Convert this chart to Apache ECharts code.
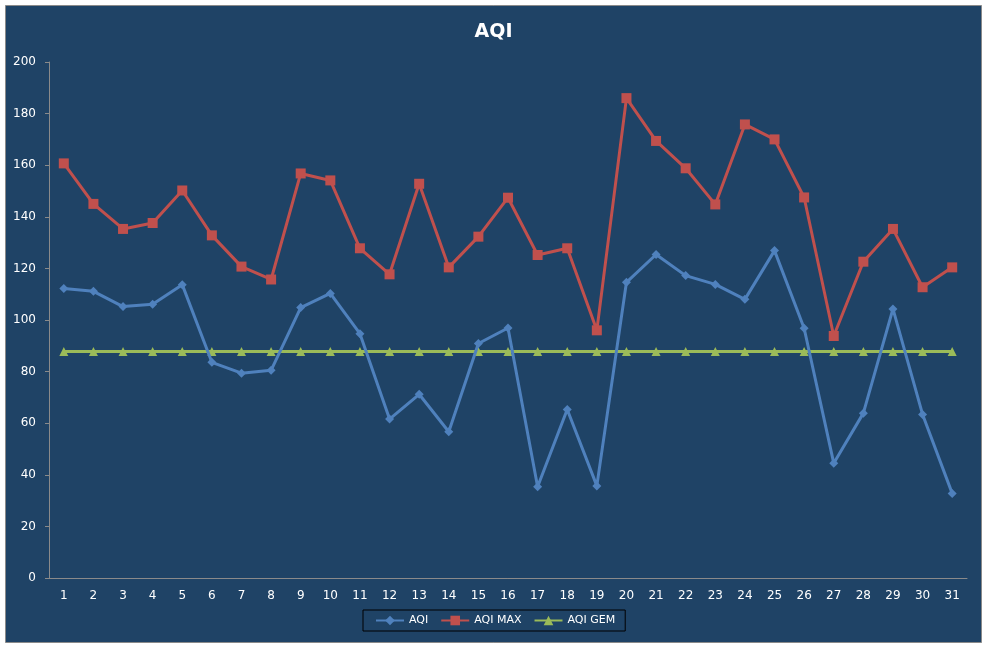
<!DOCTYPE html>
<html>
<head>
<meta charset="utf-8">
<script src="https://cdn.jsdelivr.net/npm/echarts@6/dist/echarts.min.js"></script>
<style>
  html, body { margin: 0; padding: 0; background: #ffffff; }
  #chart { width: 987px; height: 648px; }
</style>
</head>
<body>
<div id="chart"></div>
<script>
// 날짜 (1일 ~ 31일)
const days = ["1","2","3","4","5","6","7","8","9","10","11","12","13","14","15","16",
  "17","18","19","20","21","22","23","24","25","26","27","28","29","30","31"];

// AQI 일평균
const aqi = [112.2, 111.1, 105.2, 106.1, 113.7, 83.6, 79.4, 80.5, 104.8, 110.3, 94.7,
  61.6, 71.2, 56.7, 90.9, 96.9, 35.4, 65.3, 35.7, 114.6, 125.4, 117.2, 113.8, 108,
  126.9, 96.8, 44.5, 63.9, 104.3, 63.4, 32.8];

// AQI 최대값
const aqiMax = [160.7, 145, 135.3, 137.6, 150.2, 132.8, 120.7, 115.7, 156.8, 154.1, 127.8,
  117.7, 152.8, 120.4, 132.3, 147.4, 125.2, 127.8, 96, 186, 169.4, 158.8, 144.8, 175.8,
  170, 147.5, 93.8, 122.6, 135.3, 112.7, 120.4];

// AQI 월평균 (GEM)
const aqiGem = [87.8, 87.8, 87.8, 87.8, 87.8, 87.8, 87.8, 87.8, 87.8, 87.8, 87.8,
  87.8, 87.8, 87.8, 87.8, 87.8, 87.8, 87.8, 87.8, 87.8, 87.8, 87.8, 87.8, 87.8,
  87.8, 87.8, 87.8, 87.8, 87.8, 87.8, 87.8];

const chart = echarts.init(document.getElementById("chart"));
const font = "DejaVu Sans";

const option = {
  animation: false,
  backgroundColor: "#ffffff",
  graphic: [
    {
      type: "rect",
      z: -10,
      silent: true,
      shape: { x: 5.5, y: 5.5, width: 976, height: 637 },
      style: { fill: "#1f4366", stroke: "#8a8a8a", lineWidth: 1 },
    },
  ],
  title: {
    text: "AQI",
    left: "center",
    top: 18,
    textStyle: { color: "#ffffff", fontSize: 19, fontWeight: "bold", fontFamily: font },
  },
  legend: {
    data: ["AQI", "AQI MAX", "AQI GEM"],
    top: 610,
    left: 363,
    padding: [5, 10, 5, 12],
    itemGap: 12,
    itemWidth: 28,
    itemHeight: 12,
    borderColor: "#000000",
    borderWidth: 1,
    textStyle: { color: "#ffffff", fontSize: 11, fontFamily: font },
  },
  grid: { left: 49, right: 20, top: 62, bottom: 70 },
  xAxis: {
    type: "category",
    data: days,
    boundaryGap: true,
    axisLine: { lineStyle: { color: "#8a8a8a", width: 1 } },
    axisTick: { length: 5, lineStyle: { color: "#8a8a8a" } },
    axisLabel: { color: "#ffffff", fontSize: 12, fontFamily: font, margin: 12 },
  },
  yAxis: {
    type: "value",
    min: 0,
    max: 200,
    interval: 20,
    splitLine: { show: false },
    axisLine: { show: true, lineStyle: { color: "#8a8a8a", width: 1 } },
    axisTick: { show: true, inside: false, length: 4, lineStyle: { color: "#8a8a8a" } },
    axisLabel: { color: "#ffffff", fontSize: 12, fontFamily: font, margin: 13 },
  },
  series: [
    {
      name: "AQI",
      type: "line",
      data: aqi,
      symbol: "diamond",
      symbolSize: 9,
      color: "#4f81bd",
      lineStyle: { width: 3, color: "#4f81bd" },
      itemStyle: { color: "#4f81bd" },
      z: 3,
    },
    {
      name: "AQI MAX",
      type: "line",
      data: aqiMax,
      symbol: "rect",
      symbolSize: 10,
      color: "#c0504d",
      lineStyle: { width: 3, color: "#c0504d" },
      itemStyle: { color: "#c0504d" },
      z: 3,
    },
    {
      name: "AQI GEM",
      type: "line",
      data: aqiGem,
      symbol: "triangle",
      symbolSize: 9,
      color: "#9bbb59",
      lineStyle: { width: 3, color: "#9bbb59" },
      itemStyle: { color: "#9bbb59" },
      z: 2,
    },
  ],
};

chart.setOption(option);
</script>
</body>
</html>
